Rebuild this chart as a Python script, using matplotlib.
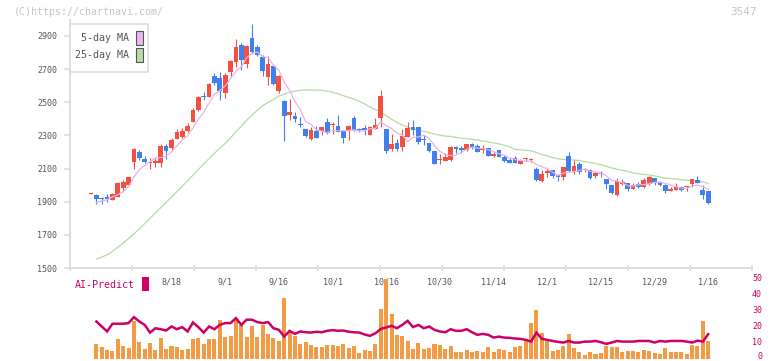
import numpy as np
import matplotlib
matplotlib.use("Agg")
import matplotlib.pyplot as plt
from matplotlib.patches import Rectangle
import matplotlib.transforms as mtrans

# daily candles (index 0 .. 115), prices in yen
opens = [1946, 1943, 1921, 1931, 1912, 1931, 1981, 2003, 2142, 2200,
         2158, 2133, 2133, 2133, 2236, 2222, 2278, 2289, 2329, 2383,
         2453, 2536, 2534, 2659, 2647, 2554, 2683, 2745, 2846, 2729,
         2890, 2832, 2773, 2651, 2717, 2570, 2508, 2425, 2417, 2363,
         2339, 2279, 2327, 2327, 2381, 2363, 2357, 2327, 2327, 2405,
         2335, 2343, 2303, 2339, 2407, 2339, 2218, 2254, 2232, 2291,
         2351, 2351, 2274, 2254, 2206, 2150, 2148, 2152, 2230, 2224,
         2212, 2248, 2236, 2210, 2224, 2176, 2212, 2170, 2152, 2164,
         2128, 2156, 2150, 2098, 2025, 2075, 2092, 2061, 2049, 2176,
         2085, 2128, 2090, 2092, 2057, 2071, 2037, 2001, 1941, 2007,
         2013, 1977, 2007, 1989, 2007, 2043, 2019, 2001, 1965, 1971,
         1989, 1987, 2007, 2031, 1971, 1965]
highs = [1950, 1947, 1927, 1947, 1950, 2017, 2031, 2050, 2226, 2212,
         2176, 2162, 2162, 2248, 2248, 2282, 2339, 2343, 2373, 2467,
         2540, 2564, 2614, 2679, 2685, 2675, 2755, 2880, 2856, 2846,
         2972, 2846, 2785, 2779, 2725, 2663, 2514, 2520, 2443, 2412,
         2341, 2351, 2357, 2353, 2405, 2383, 2423, 2333, 2363, 2417,
         2345, 2361, 2357, 2405, 2574, 2341, 2309, 2279, 2339, 2381,
         2393, 2353, 2303, 2256, 2208, 2188, 2196, 2236, 2236, 2236,
         2250, 2254, 2248, 2242, 2226, 2200, 2214, 2182, 2164, 2176,
         2158, 2164, 2164, 2110, 2092, 2098, 2094, 2067, 2112, 2200,
         2152, 2142, 2104, 2098, 2079, 2085, 2039, 2003, 2043, 2037,
         2015, 2013, 2019, 2043, 2055, 2045, 2025, 2007, 1989, 2013,
         1995, 1995, 2039, 2055, 2001, 1967]
lows = [1945, 1886, 1887, 1900, 1910, 1927, 1961, 2000, 2098, 2150,
        2131, 2096, 2112, 2112, 2156, 2212, 2278, 2285, 2323, 2381,
        2449, 2514, 2530, 2604, 2514, 2524, 2655, 2715, 2695, 2705,
        2789, 2779, 2661, 2604, 2604, 2554, 2268, 2393, 2383, 2350,
        2290, 2273, 2285, 2303, 2311, 2309, 2319, 2252, 2273, 2327,
        2323, 2303, 2303, 2337, 2353, 2196, 2208, 2208, 2208, 2289,
        2303, 2248, 2242, 2202, 2126, 2128, 2146, 2148, 2196, 2196,
        2208, 2218, 2200, 2196, 2174, 2172, 2168, 2142, 2132, 2132,
        2126, 2148, 2142, 2025, 2019, 2051, 2045, 2025, 2031, 2079,
        2067, 2067, 2079, 2037, 2045, 2049, 1977, 1947, 1935, 2001,
        1965, 1977, 1983, 1983, 2001, 2001, 1995, 1953, 1963, 1969,
        1965, 1965, 1989, 2011, 1917, 1886]
closes = [1947, 1917, 1914, 1918, 1947, 2013, 2017, 2049, 2218, 2166,
          2142, 2140, 2148, 2236, 2208, 2272, 2319, 2329, 2357, 2453,
          2530, 2532, 2608, 2618, 2568, 2665, 2749, 2834, 2755, 2840,
          2803, 2785, 2691, 2729, 2608, 2661, 2419, 2441, 2397, 2360,
          2297, 2333, 2287, 2351, 2313, 2369, 2321, 2287, 2357, 2333,
          2331, 2333, 2351, 2363, 2538, 2208, 2248, 2218, 2297, 2345,
          2333, 2260, 2270, 2204, 2128, 2154, 2172, 2230, 2220, 2214,
          2248, 2232, 2202, 2214, 2176, 2188, 2172, 2148, 2136, 2136,
          2146, 2160, 2154, 2031, 2067, 2085, 2055, 2049, 2110, 2085,
          2116, 2079, 2094, 2045, 2073, 2067, 2007, 1953, 2025, 2019,
          1977, 2001, 1989, 2031, 2049, 2013, 2001, 1965, 1977, 1995,
          1971, 1991, 2037, 2013, 1941, 1892]

# moving averages, volume and AI-Predict start at index 1
ma5 = [1894, 1904, 1911, 1929, 1942, 1962, 1989, 2049, 2093, 2118,
       2143, 2163, 2166, 2175, 2201, 2237, 2273, 2297, 2346, 2398,
       2440, 2496, 2548, 2571, 2598, 2642, 2687, 2714, 2769, 2796,
       2803, 2775, 2770, 2723, 2695, 2622, 2572, 2505, 2456, 2383,
       2366, 2335, 2326, 2316, 2331, 2328, 2328, 2329, 2333, 2326,
       2328, 2341, 2342, 2383, 2359, 2342, 2315, 2302, 2263, 2288,
       2291, 2301, 2283, 2239, 2204, 2186, 2178, 2181, 2198, 2217,
       2229, 2223, 2222, 2214, 2202, 2190, 2180, 2164, 2156, 2148,
       2145, 2146, 2125, 2112, 2099, 2078, 2057, 2073, 2077, 2083,
       2088, 2097, 2084, 2081, 2072, 2057, 2029, 2025, 2014, 1996,
       1995, 2002, 2003, 2009, 2017, 2017, 2012, 2001, 1990, 1982,
       1980, 1994, 2001, 1991, 1975]
ma25 = [1554, 1566, 1580, 1600, 1625, 1650, 1678, 1706, 1736, 1768,
        1800, 1832, 1864, 1896, 1928, 1960, 1993, 2027, 2060, 2094,
        2127, 2160, 2192, 2223, 2251, 2285, 2322, 2355, 2391, 2422,
        2453, 2479, 2499, 2517, 2538, 2549, 2561, 2567, 2573, 2574,
        2575, 2573, 2573, 2567, 2561, 2552, 2540, 2529, 2520, 2506,
        2490, 2471, 2455, 2443, 2419, 2398, 2379, 2362, 2351, 2338,
        2332, 2325, 2317, 2308, 2302, 2296, 2294, 2288, 2284, 2280,
        2276, 2273, 2267, 2261, 2255, 2249, 2241, 2232, 2216, 2213,
        2210, 2207, 2197, 2185, 2176, 2167, 2159, 2155, 2153, 2152,
        2148, 2143, 2136, 2130, 2123, 2114, 2104, 2096, 2090, 2082,
        2075, 2069, 2065, 2061, 2056, 2049, 2042, 2040, 2037, 2032,
        2030, 2029, 2025, 2019, 2010]
volume = [9.3, 7.0, 5.5, 4.9, 12.2, 7.8, 6.6, 23.6, 10.5, 6.0,
          9.7, 5.3, 12.8, 6.0, 7.8, 7.0, 5.3, 6.0, 12.2, 12.8,
          9.1, 12.2, 12.2, 24.1, 13.4, 14.1, 24.1, 20.9, 13.4, 20.3,
          13.4, 20.9, 15.3, 12.8, 10.9, 37.8, 16.6, 14.1, 9.1, 10.3,
          8.4, 7.2, 7.2, 8.4, 8.4, 7.8, 9.1, 6.6, 7.8, 3.4,
          5.3, 4.7, 9.1, 30.9, 49.7, 27.8, 14.7, 14.1, 10.9, 5.9,
          9.7, 5.9, 6.6, 9.1, 8.4, 5.9, 7.8, 4.1, 4.1, 5.3,
          4.1, 4.7, 4.1, 7.2, 4.1, 5.9, 5.3, 4.1, 7.2, 7.8,
          10.9, 22.2, 30.3, 15.9, 10.9, 4.7, 5.3, 7.8, 15.3, 6.6,
          4.1, 2.2, 4.1, 3.0, 3.4, 8.0, 7.2, 7.2, 4.1, 4.7,
          4.7, 4.1, 5.3, 4.7, 3.4, 2.8, 6.6, 4.1, 4.1, 4.1,
          2.8, 8.4, 7.8, 23.4, 10.9]
ai_predict = [23.0, 19.9, 16.8, 21.6, 21.6, 21.6, 22.0, 25.7, 23.0, 20.9,
              16.1, 18.8, 18.2, 17.4, 19.9, 18.2, 19.5, 16.8, 22.4, 19.5,
              16.1, 19.9, 18.2, 20.9, 22.0, 22.0, 25.1, 20.9, 24.1, 24.1,
              22.6, 22.0, 22.6, 18.8, 17.8, 13.6, 17.2, 15.3, 16.8, 16.3,
              16.1, 16.6, 16.3, 17.2, 17.6, 17.2, 17.4, 16.6, 16.3, 16.1,
              14.9, 14.1, 15.7, 18.4, 19.3, 20.3, 18.8, 20.9, 23.4, 19.5,
              20.9, 18.8, 19.9, 17.8, 16.8, 16.3, 18.2, 17.2, 17.2, 18.2,
              16.3, 14.7, 15.3, 14.7, 13.0, 13.6, 13.0, 12.8, 12.4, 12.2,
              11.6, 10.5, 16.1, 12.2, 11.6, 10.9, 10.3, 9.9, 10.9, 9.9,
              9.9, 10.5, 10.5, 10.9, 10.1, 9.1, 9.9, 10.9, 10.5, 10.5,
              10.5, 10.9, 10.9, 10.9, 9.9, 10.9, 10.5, 10.9, 10.9, 10.9,
              10.5, 9.9, 11.1, 10.5, 15.1]

date_idx = [15, 25, 35, 45, 55, 65, 75, 85, 95, 105, 115]
date_labels = ['8/18', '9/1', '9/16', '10/1', '10/16', '10/30',
               '11/14', '12/1', '12/15', '12/29', '1/16']
price_ticks = [1500, 1700, 1900, 2100, 2300, 2500, 2700, 2900]
ai_ticks = [0, 10, 20, 30, 40, 50]

W, H = 772, 361
RED = '#f25040'
BLUE = '#4080ee'
GRID = '#dddddd'
TXT = '#555555'
MAG = '#cc0066'
MONO = 'DejaVu Sans Mono'


def fx(x):
    return x / W


def fy(y):
    return 1 - y / H


# candle i sits at pixel 91 + 5.367*i
x0, step = 91.0, 5.367
xlo, xhi = (70 - x0) / step, (752 - x0) / step

fig = plt.figure(figsize=(W / 100, H / 100), dpi=100)
fig.patch.set_facecolor('white')

ax = fig.add_axes([fx(70), fy(268), fx(752) - fx(70), fy(20) - fy(268)])
ax.set_xlim(xlo, xhi)
ax.set_ylim(1500, 2900 + 16 * 6.034)

o = np.array(opens, float)
h = np.array(highs, float)
l = np.array(lows, float)
c = np.array(closes, float)
idx = np.arange(len(c))
up = c >= o
cols = np.where(up, RED, BLUE)

ax.vlines(idx, l, h, colors=cols, linewidth=0.8, zorder=3)
body_lo = np.minimum(o, c)
body_h = np.maximum(np.abs(c - o), 6)
ax.bar(idx, body_h, bottom=body_lo, width=0.88, color=cols,
       linewidth=0, zorder=4)

xs = np.arange(1, len(c))
ax.plot(xs, ma5, color='#e8b2e8', linewidth=0.9, zorder=5)
ax.plot(xs, ma25, color='#b4daa6', linewidth=0.9, zorder=2)

for s in ['top', 'right']:
    ax.spines[s].set_visible(False)
for s in ['left', 'bottom']:
    ax.spines[s].set_color(GRID)
    ax.spines[s].set_linewidth(1.4)
ax.set_yticks(price_ticks)
ax.set_yticklabels([str(p) for p in price_ticks], fontfamily=MONO,
                   fontsize=6, color=TXT)
ax.tick_params(axis='y', length=4, width=1.2, color=GRID, pad=5)
ax.set_xticks(np.linspace(xlo, xhi, 12))
ax.set_xticklabels([])
ax.tick_params(axis='x', length=5, width=1.2, color=GRID, direction='inout')

trans = mtrans.blended_transform_factory(ax.transData, fig.transFigure)
for i, lab in zip(date_idx, date_labels):
    ax.text(i, fy(282), lab, transform=trans, ha='center', va='center',
            fontfamily=MONO, fontsize=6, color=TXT)

# legend box
fig.patches.append(Rectangle((fx(70), fy(72)), fx(148) - fx(70),
                             fy(24) - fy(72), transform=fig.transFigure,
                             facecolor='white', edgecolor=GRID,
                             linewidth=1.2, zorder=10))
for yy, lab, col in [(38, '5-day MA', '#eab8ea'), (55, '25-day MA', '#b8dcae')]:
    fig.text(fx(129), fy(yy), lab, ha='right', va='center', fontfamily=MONO,
             fontsize=7.2, color=TXT, zorder=11)
    fig.patches.append(Rectangle((fx(136), fy(yy + 7)), fx(7), fy(0) - fy(14),
                                 transform=fig.transFigure, facecolor=col,
                                 edgecolor='#555555', linewidth=0.8,
                                 zorder=11))

# volume / AI-Predict panel
av = fig.add_axes([fx(70), fy(358.5), fx(752) - fx(70), fy(274.8) - fy(358.5)])
av.set_xlim(xlo, xhi)
av.set_ylim(0, 52)
av.bar(xs, volume, width=0.75, color='#f29a44', linewidth=0)
av.plot(xs, ai_predict, color=MAG, linewidth=1.8, solid_joinstyle='miter')
av.axis('off')
lab_x = (762 - 70) / (752 - 70)
for t in ai_ticks:
    av.text(lab_x, max(t, 1.3), str(t),
            transform=av.get_yaxis_transform(), ha='right', va='center',
            fontfamily=MONO, fontsize=6, color=MAG)

fig.text(fx(75), fy(285), 'AI-Predict', ha='left', va='center',
         fontfamily=MONO, fontsize=7.2, color=MAG)
fig.patches.append(Rectangle((fx(142), fy(291)), fx(7), fy(0) - fy(14),
                             transform=fig.transFigure, facecolor=MAG,
                             linewidth=0))

fig.text(fx(14), fy(12), '(C)https://chartnavi.com/', ha='left',
         va='center', fontfamily=MONO, fontsize=7.2, color='#c4c4c4')
fig.text(fx(757), fy(12), '3547', ha='right', va='center',
         fontsize=7.5, color='#c4c4c4')

fig.savefig('out.png', dpi=100, facecolor='white')
